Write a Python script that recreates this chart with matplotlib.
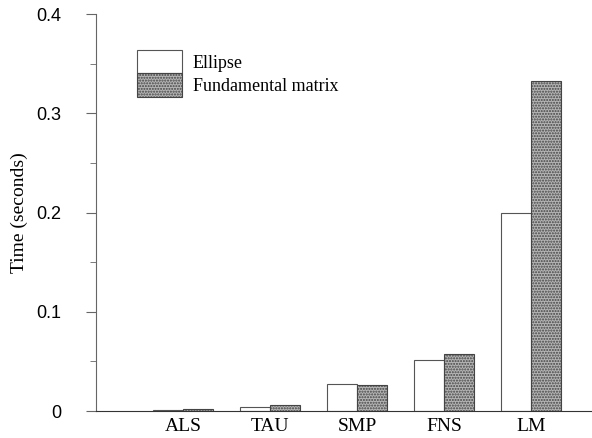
import numpy as np
import matplotlib
matplotlib.use('Agg')
import matplotlib.pyplot as plt
from matplotlib.ticker import MultipleLocator

methods = ['ALS', 'TAU', 'SMP', 'FNS', 'LM']
ellipse = [0.001, 0.004, 0.027, 0.051, 0.200]
fundamental = [0.002, 0.006, 0.026, 0.057, 0.333]
yticks = [0, 0.1, 0.2, 0.3, 0.4]
ytick_labels = ['0', '0.1', '0.2', '0.3', '0.4']

fig = plt.figure(figsize=(5.92, 4.38), dpi=100)
ax = fig.add_axes([0.162, 0.0616, 0.838, 0.9064])

x = np.arange(1, len(methods) + 1)
w = 0.345
ax.bar(x - w / 2, ellipse, w, color='white', edgecolor='#555555', linewidth=0.8,
       label='Ellipse')
ax.bar(x + w / 2, fundamental, w, color='#b5b5b5', edgecolor='#444444', linewidth=0.8,
       hatch='......', label='Fundamental matrix')

ax.set_xlim(0, 5.7)
ax.set_ylim(0, 0.4)
ax.set_xticks(x)
ax.set_xticklabels(methods, family='Liberation Serif', fontsize=14)
ax.tick_params(axis='x', length=0, pad=5)
ax.set_yticks(yticks)
ax.set_yticklabels(ytick_labels, family='Liberation Sans', fontsize=13)
ax.yaxis.set_minor_locator(MultipleLocator(0.05))
ax.tick_params(axis='y', which='major', length=7, color='#666666', pad=18)
ax.tick_params(axis='y', which='minor', length=4, color='#666666')

ax.spines['top'].set_visible(False)
ax.spines['right'].set_visible(False)
ax.spines['left'].set_color('#666666')
ax.spines['bottom'].set_color('#333333')

ax.set_ylabel('Time (seconds)', family='Liberation Serif', fontsize=14, labelpad=6)

ax.legend(loc='upper left', bbox_to_anchor=(0.05, 0.95), frameon=False,
          prop={'family': 'Liberation Serif', 'size': 13},
          handlelength=2.5, handleheight=1.6, labelspacing=0.0, handletextpad=0.6)

fig.savefig('out.png', dpi=100)
